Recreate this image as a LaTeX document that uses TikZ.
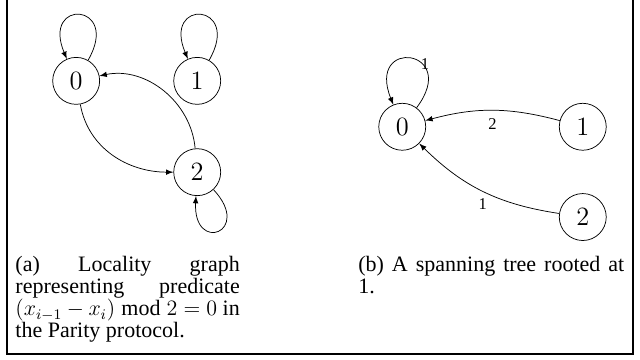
\documentclass[tikz,border=0pt]{standalone}
\usepackage{fontspec}
\setmainfont{Liberation Serif}
\usetikzlibrary{arrows}

\begin{document}
\begin{tikzpicture}[>=latex,
    vtx/.style={circle,draw,minimum size=0.9cm,inner sep=0pt,font=\Large},
    wt/.style={font=\small,inner sep=2pt},
    captxt/.style={anchor=north west,inner sep=0pt,align=justify,
      font=\fontsize{12}{12}\selectfont,
      execute at begin node={\hyphenpenalty=10000
        \spaceskip=\fontdimen2\font plus \fontdimen3\font\relax}}]
  \useasboundingbox (0,0) rectangle (12.267,6.9);
  \draw[line width=0.8pt] (0.13,6.9) -- (0.13,0.115) -- (12.13,0.115) -- (12.13,6.9);
  % locality graph
  \node[vtx] (a0) at (1.46,5.35) {$0$};
  \node[vtx] (a1) at (3.78,5.35) {$1$};
  \node[vtx] (a2) at (3.78,3.60) {$2$};
  \draw[->] (a0) to[out=60,in=113,min distance=1.05cm,looseness=8] (a0);
  \draw[->] (a1) to[out=60,in=113,min distance=1.05cm,looseness=8] (a1);
  \draw[->] (a2) to[out=-47,in=-93,min distance=0.85cm,looseness=8] (a2);
  \draw[->] (a0) to[out=-80,in=180] (a2);
  \draw[->] (a2) to[out=95,in=12] (a0);
  % spanning tree
  \node[vtx] (b0) at (7.71,4.47) {$0$};
  \node[vtx] (b1) at (11.17,4.47) {$1$};
  \node[vtx] (b2) at (11.17,2.74) {$2$};
  \draw[->] (b0) to[out=53,in=112,min distance=1.3cm,looseness=8]
    node[wt,pos=0.33,above right=-4pt] {1} (b0);
  \draw[->] (b1) to[bend right=15] node[wt,below=2pt] {2} (b0);
  \draw[->] (b2) to[bend left=18] node[wt,below=2pt] {1} (b0);
  % captions
  \node[captxt,text width=4.3cm] (capa) at (0.29,1.99)
    {(a) Locality graph representing predicate
     $(x_{i-1}-x_i)\bmod 2=0$ in the Parity protocol.};
  \node[captxt,text width=5.1cm] (capb) at (6.86,1.99)
    {(b) A spanning tree rooted at 1.};
\end{tikzpicture}
\end{document}
